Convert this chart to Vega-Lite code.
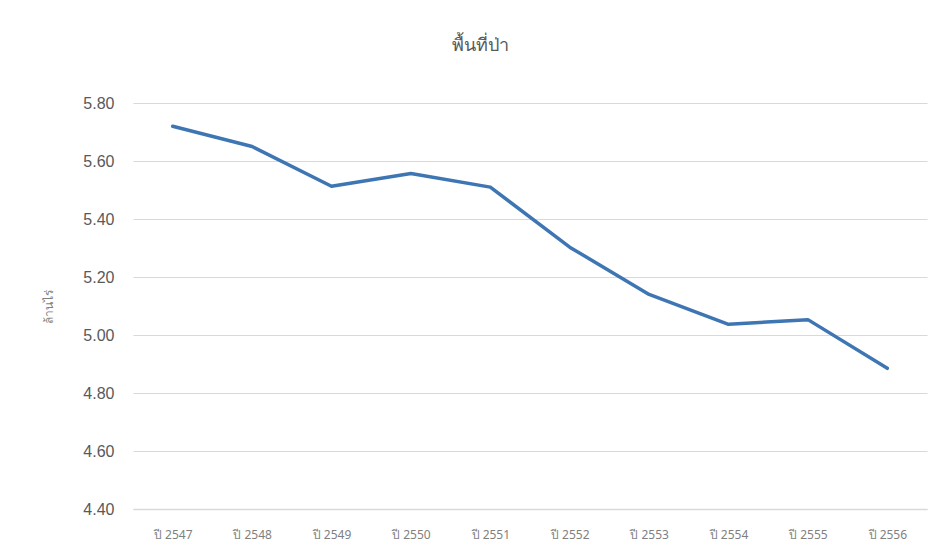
{
  "$schema": "https://vega.github.io/schema/vega-lite/v6.json",
  "width": 794,
  "height": 406,
  "autosize": {"type": "none"},
  "padding": {"left": 133, "top": 103, "right": 12, "bottom": 46},
  "background": "white",
  "title": {
    "text": "พื้นที่ป่า",
    "fontSize": 18,
    "font": "Noto Sans",
    "fontWeight": "normal",
    "color": "#595959",
    "anchor": "middle",
    "dx": -50,
    "offset": 40
  },
  "config": {"view": {"stroke": null}},
  "data": {
    "values": [
      {"year": "ปี 2547", "value": 5.72},
      {"year": "ปี 2548", "value": 5.65},
      {"year": "ปี 2549", "value": 5.513},
      {"year": "ปี 2550", "value": 5.557},
      {"year": "ปี 2551", "value": 5.51},
      {"year": "ปี 2552", "value": 5.303},
      {"year": "ปี 2553", "value": 5.14},
      {"year": "ปี 2554", "value": 5.037},
      {"year": "ปี 2555", "value": 5.053},
      {"year": "ปี 2556", "value": 4.885}
    ]
  },
  "mark": {"type": "line", "color": "#3e75b3", "strokeWidth": 3.5, "strokeJoin": "round", "strokeCap": "round"},
  "encoding": {
    "x": {
      "field": "year",
      "type": "nominal",
      "sort": null,
      "scale": {"type": "point", "padding": 0.5},
      "axis": {
        "title": null,
        "labelAngle": 0,
        "ticks": false,
        "domain": true,
        "domainColor": "#d9d9d9",
        "domainWidth": 1.5,
        "labelPadding": 20,
        "labelFontSize": 12,
        "labelFont": "Noto Sans",
        "labelColor": "#7f7f7f"
      }
    },
    "y": {
      "field": "value",
      "type": "quantitative",
      "scale": {"domain": [4.4, 5.8], "zero": false, "nice": false},
      "axis": {
        "values": [4.4, 4.6, 4.8, 5.0, 5.2, 5.4, 5.6, 5.8],
        "format": ".2f",
        "grid": true,
        "gridColor": "#d9d9d9",
        "gridWidth": 1,
        "domain": false,
        "ticks": false,
        "labelPadding": 19,
        "labelFontSize": 16,
        "labelFont": "Liberation Sans",
        "labelColor": "#595959",
        "title": "ล้านไร่",
        "titleFont": "Noto Sans",
        "titleFontSize": 12,
        "titleFontWeight": "normal",
        "titleColor": "#7f7f7f",
        "titleAngle": -90,
        "titleX": -85,
        "titleY": 203,
        "titleBaseline": "middle"
      }
    }
  }
}
